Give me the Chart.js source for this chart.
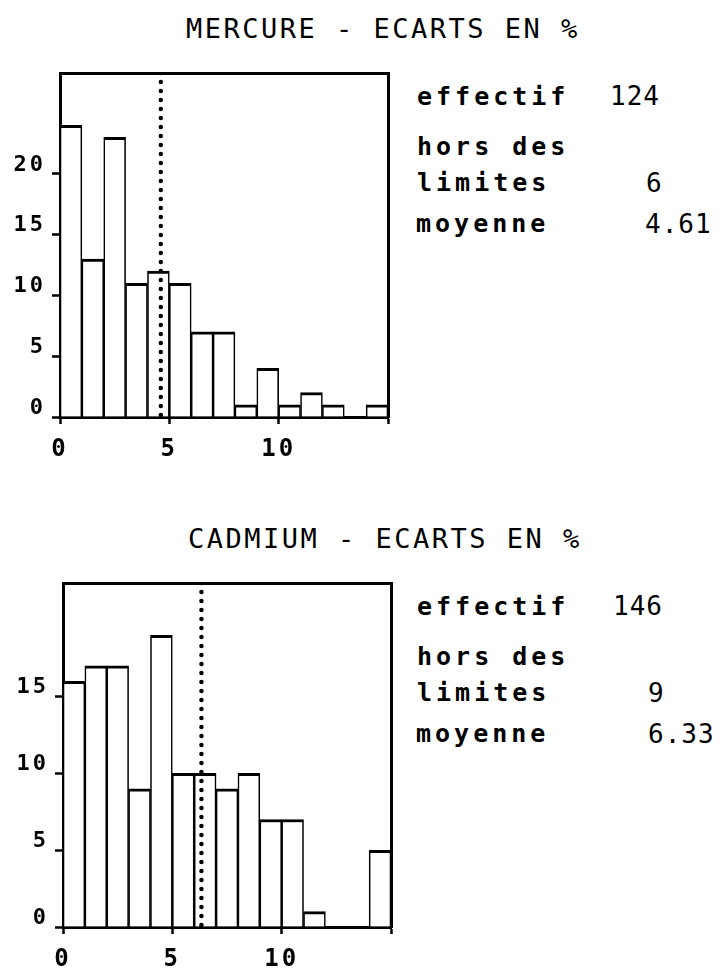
<!DOCTYPE html>
<html><head><meta charset="utf-8">
<title>Mercure / Cadmium - ecarts en %</title>
<script src="https://cdn.jsdelivr.net/npm/chart.js"></script>
<style>
  body {
    margin: 0;
    background: #fff;
    color: #000;
    width: 723px;
    height: 970px;
    position: relative;
    overflow: hidden;
    font-family: 'DejaVu Sans Mono', monospace;
  }
  .panel { position: absolute; left: 0; width: 723px; height: 500px; }
  .panel canvas { position: absolute; top: 0; }
  .title { position: absolute; font-size: 27px; line-height: 27px; letter-spacing: 2.5px; white-space: pre; }
  .lbl { position: absolute; font-size: 25px; line-height: 25px; letter-spacing: 4px; font-weight: bold; white-space: pre; }
  .num { position: absolute; font-size: 26px; line-height: 26px; letter-spacing: 1px; white-space: pre; }
</style>
</head>
<body>

<div class="panel" id="panelHg" style="top:0">
  <div class="title" style="left:186px; top:15px">MERCURE - ECARTS EN %</div>
  <canvas id="chartHg" width="400" height="470" style="left:0"></canvas>
  <div class="lbl" style="left:417px; top:84px">effectif</div>
  <div class="num" id="hgN" style="left:610px; top:83px"></div>
  <div class="lbl" style="left:417px; top:134px">hors des</div>
  <div class="lbl" style="left:417px; top:170px">limites</div>
  <div class="num" id="hgOut" style="left:646px; top:170px"></div>
  <div class="lbl" style="left:416px; top:211px">moyenne</div>
  <div class="num" id="hgMean" style="left:645px; top:211px"></div>
</div>

<div class="panel" id="panelCd" style="top:510px">
  <div class="title" style="left:188px; top:15px">CADMIUM - ECARTS EN %</div>
  <canvas id="chartCd" width="400" height="470" style="left:3px"></canvas>
  <div class="lbl" style="left:417px; top:84px">effectif</div>
  <div class="num" id="cdN" style="left:613px; top:83px"></div>
  <div class="lbl" style="left:417px; top:134px">hors des</div>
  <div class="lbl" style="left:417px; top:170px">limites</div>
  <div class="num" id="cdOut" style="left:648px; top:170px"></div>
  <div class="lbl" style="left:416px; top:211px">moyenne</div>
  <div class="num" id="cdMean" style="left:648px; top:211px"></div>
</div>

<script>
// histogram bins: 1 % wide, starting at 0
const binStarts = [0, 1, 2, 3, 4, 5, 6, 7, 8, 9, 10, 11, 12, 13, 14];
const mercureCounts = [24, 13, 23, 11, 12, 11, 7, 7, 1, 4, 1, 2, 1, 0, 1];
const cadmiumCounts = [16, 17, 17, 9, 19, 10, 10, 9, 10, 7, 7, 1, 0, 0, 5];

const xTicks = [0, 5, 10, 15];
const mercureYTicks = [0, 5, 10, 15, 20];
const cadmiumYTicks = [0, 5, 10, 15];
const mercureYMax = 28.3;
const cadmiumYMax = 22.4;

// effectif, hors des limites, moyenne
const mercureStats = [124, 6, '4.61'];
const cadmiumStats = [146, 9, '6.33'];
const mercureMean = 4.61;
const cadmiumMean = 6.33;

const FONT = 'DejaVu Sans Mono';

// wider tick lettering, like the plotter font
const spacingPlugin = {
  id: 'spacing',
  beforeDraw(chart) { chart.ctx.letterSpacing = '3px'; },
  afterDraw(chart) { chart.ctx.letterSpacing = '0px'; }
};

function makeHistogram(canvasId, counts, yTicks, yMax, mean) {
  const bars = counts.map((c, i) => ({ x: binStarts[i] + 0.5, y: c }));
  const frame = { color: '#000', width: 3 };
  return new Chart(document.getElementById(canvasId), {
    type: 'bar',
    data: {
      datasets: [
        {
          type: 'bar',
          data: bars,
          backgroundColor: '#fff',
          borderColor: '#000',
          borderWidth: { top: 3, left: 1.6, right: 1.6, bottom: 0 },
          borderSkipped: 'start',
          barPercentage: 1,
          categoryPercentage: 1,
          order: 2
        },
        {
          type: 'line',
          data: [{ x: mean, y: yMax }, { x: mean, y: 0 }],
          borderColor: '#000',
          borderWidth: 4.5,
          borderDash: [0, 9],
          borderCapStyle: 'round',
          pointRadius: 0,
          fill: false,
          order: 1
        }
      ]
    },
    options: {
      responsive: false,
      animation: false,
      events: [],
      layout: { padding: { top: 73, right: 12, left: 0, bottom: 0 } },
      plugins: { legend: { display: false }, tooltip: { enabled: false } },
      scales: {
        x: {
          type: 'linear', min: 0, max: 15, offset: false,
          afterBuildTicks: s => { s.ticks = xTicks.map(v => ({ value: v })); },
          afterFit: s => { s.height = 53; },
          ticks: {
            callback: v => (v === 15 ? '' : String(v)),
            font: { family: FONT, size: 24, weight: 'bold' },
            color: '#000', padding: 11, maxRotation: 0, autoSkip: false
          },
          grid: { offset: false, drawOnChartArea: false, tickLength: 7, tickWidth: 2.5, tickColor: '#000' },
          border: frame
        },
        y: {
          type: 'linear', min: 0, max: yMax,
          afterBuildTicks: s => { s.ticks = yTicks.map(v => ({ value: v })); },
          afterFit: s => { s.width = 60; },
          ticks: {
            font: { family: FONT, size: 22, weight: 'bold' },
            color: '#000', padding: 6, labelOffset: -9
          },
          grid: { drawOnChartArea: false, tickLength: 8, tickWidth: 2.5, tickColor: '#000' },
          border: frame
        },
        x2: {
          type: 'linear', position: 'top', min: 0, max: 15,
          ticks: { display: false },
          grid: { drawOnChartArea: false, drawTicks: false },
          border: frame,
          afterFit: s => { s.height = 0; }
        },
        y2: {
          type: 'linear', position: 'right', min: 0, max: yMax,
          ticks: { display: false },
          grid: { drawOnChartArea: false, drawTicks: false },
          border: frame,
          afterFit: s => { s.width = 0; }
        }
      }
    },
    plugins: [spacingPlugin]
  });
}

function fillStats(prefix, stats) {
  document.getElementById(prefix + 'N').textContent = stats[0];
  document.getElementById(prefix + 'Out').textContent = stats[1];
  document.getElementById(prefix + 'Mean').textContent = stats[2];
}

makeHistogram('chartHg', mercureCounts, mercureYTicks, mercureYMax, mercureMean);
makeHistogram('chartCd', cadmiumCounts, cadmiumYTicks, cadmiumYMax, cadmiumMean);
fillStats('hg', mercureStats);
fillStats('cd', cadmiumStats);
</script>
</body></html>
